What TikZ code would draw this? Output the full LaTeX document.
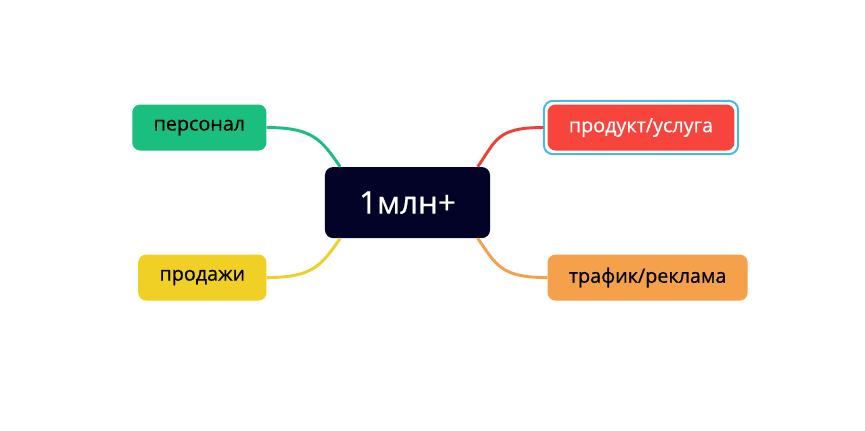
\documentclass[tikz,border=0pt]{standalone}
\usepackage{fontspec}
\setmainfont{Open Sans}[FakeBold=0.7]
\usetikzlibrary{positioning}
\definecolor{navy}{RGB}{2,3,38}
\definecolor{mapgreen}{RGB}{26,190,126}
\definecolor{mapyellow}{RGB}{240,208,36}
\definecolor{mapred}{RGB}{247,68,60}
\definecolor{maporange}{RGB}{245,161,76}
\definecolor{selblue}{RGB}{77,184,228}

\begin{document}
\begin{tikzpicture}[leaf/.style={rounded corners=6pt,minimum height=34.5pt,inner xsep=16pt,font=\fontsize{14.8}{17}\selectfont},
  link/.style={line width=2.2pt},
  node distance=12pt and 43.5pt]
\useasboundingbox (-305.6pt,-170.6pt) rectangle (343.1pt,151.9pt);
\node [fill=navy,text=white,rounded corners=6pt,minimum width=123.75pt,minimum height=53.25pt,font=\fontsize{23.5}{28}\selectfont] (mln) {1млн+};
\node [leaf,fill=mapgreen,above left=of mln] (pers) {персонал};
\node [leaf,fill=mapyellow,below left=of mln] (sales) {продажи};
\node [leaf,fill=mapred,text=white,above right=12pt and 42.75pt of mln] (prod) {продукт/услуга};
\node [leaf,fill=maporange,below right=12pt and 42.75pt of mln] (traf) {трафик/реклама};
\draw [selblue,line width=1.5pt,rounded corners=7pt] ([shift={(-2.6pt,2.6pt)}]prod.north west) rectangle ([shift={(2.6pt,-2.6pt)}]prod.south east);
\draw [link,mapgreen] (pers.east) .. controls +(35pt,0) and +(-14pt,20pt) .. (mln.152);
\draw [link,mapyellow] (sales.east) .. controls +(35pt,0) and +(-14pt,-20pt) .. (mln.208);
\draw [link,mapred!95!black] ([xshift=-3pt]prod.west) .. controls +(-35pt,0) and +(14pt,20pt) .. (mln.27);
\draw [link,maporange] (traf.west) .. controls +(-35pt,0) and +(14pt,-20pt) .. (mln.333);
\end{tikzpicture}
\end{document}
